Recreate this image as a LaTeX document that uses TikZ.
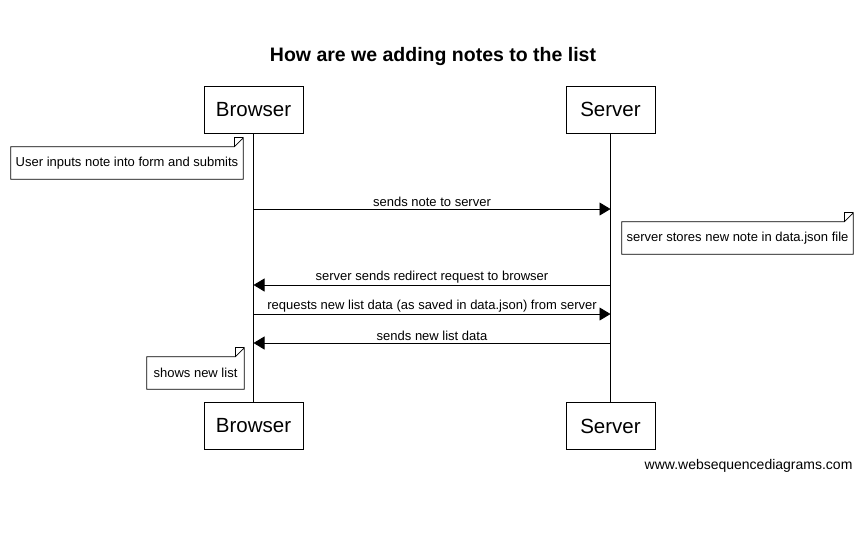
\documentclass[tikz,border=0pt]{standalone}
\usepackage{fontspec}
\setmainfont{Liberation Sans}
\usetikzlibrary{arrows.meta,calc}
\tikzset{
	actor/.style={draw, line width=0.8pt, minimum width=99pt, minimum height=47pt, font=\fontsize{20.5}{24}\selectfont},
	lifeline/.style={line width=0.8pt},
	msg/.style={line width=0.8pt, -{Triangle[length=11pt,width=13pt]}},
	msglabel/.style={font=\fontsize{13}{15}\selectfont, inner sep=1.5pt},
	notetext/.style={minimum height=32pt, inner sep=0pt, font=\fontsize{13}{15}\selectfont},
	noteline/.style={line width=0.7pt}
}
\newcommand{\notefold}[1]{%
	\draw[noteline] (#1.north west) -- ($(#1.north east)+(-9,0)$) -- ($(#1.north east)+(0,-9)$) -- (#1.south east) -- (#1.south west) -- cycle;
	\draw[noteline] ($(#1.north east)+(-9,0)$) -- ($(#1.north east)+(-9,-9)$) -- ($(#1.north east)+(0,-9)$);
}
\begin{document}
\begin{tikzpicture}[x=1pt,y=-1pt]
	\useasboundingbox (0,0) rectangle (863,544);

	% Title
	\node[font=\bfseries\fontsize{19.5}{23}\selectfont] (title) at (433,56) {How are we adding notes to the list};

	% Actors
	\node[actor] (browserTop) at (253.5,109.5) {Browser};
	\node[actor, minimum width=89pt] (serverTop) at (610.5,109.5) {Server};
	\node[actor] (browserBot) at (253.5,426) {Browser};
	\node[actor, minimum width=89pt] (serverBot) at (610.5,426) {Server};

	% Lifelines
	\draw[lifeline] (browserTop.south) -- (browserBot.north);
	\draw[lifeline] (serverTop.south) -- (serverBot.north);

	% Points on the lifelines
	\coordinate (b1) at (253.5,209);
	\coordinate (s1) at (610.5,209);
	\coordinate (b2) at (253.5,285);
	\coordinate (s2) at (610.5,285);
	\coordinate (b3) at (253.5,314);
	\coordinate (s3) at (610.5,314);
	\coordinate (b4) at (253.5,343);
	\coordinate (s4) at (610.5,343);

	% Notes
	\node[notetext, minimum width=232pt] (noteForm) at (127,163) {User inputs note into form and submits};
	\notefold{noteForm}
	\node[notetext, minimum width=231pt] (noteStore) at (737.5,238) {server stores new note in data.json file};
	\notefold{noteStore}
	\node[notetext, minimum width=97pt] (noteShow) at (195.5,373) {shows new list};
	\notefold{noteShow}

	% Messages
	\draw[msg] (b1) -- node[msglabel, above] {sends note to server} (s1);
	\draw[msg] (s2) -- node[msglabel, above] {server sends redirect request to browser} (b2);
	\draw[msg] (b3) -- node[msglabel, above] {requests new list data (as saved in data.json) from server} (s3);
	\draw[msg] (s4) -- node[msglabel, above] {sends new list data} (b4);

	% Footer
	\node[anchor=east, font=\fontsize{14}{16}\selectfont] (footer) at (856,466) {www.websequencediagrams.com};
\end{tikzpicture}
\end{document}
